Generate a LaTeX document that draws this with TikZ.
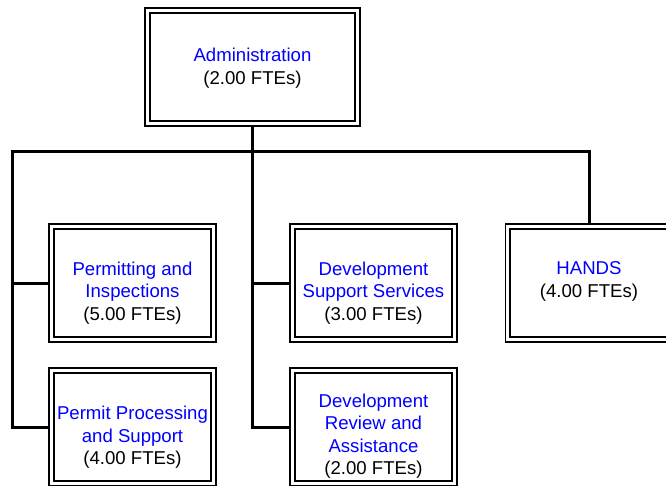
\documentclass[tikz,border=0pt]{standalone}
\usepackage{fontspec}
\setmainfont{Liberation Sans}
\begin{document}
\begin{tikzpicture}[x=1pt,y=-1pt,
  box/.style={draw=black, double=white, double distance=3pt, line width=1.8pt,
    rectangle, inner sep=0pt, outer sep=3.3pt, minimum width=162.4pt, minimum height=113.4pt},
  txt/.style={align=center, inner sep=0pt, font=\fontsize{18.6pt}{22.5pt}\selectfont},
  conn/.style={draw=black, line width=3pt, line join=miter}]
\clip (0,0) rectangle (666,485);
% boxes
\node[box, minimum width=210.4pt] (admin) at (252.5,67) {};
\node[box] (perm) at (132.5,283) {};
\node[box] (ppro) at (132.5,427) {};
\node[box] (devsup) at (373.5,283) {};
\node[box] (devrev) at (373.5,427) {};
\node[box] (hands) at (589,283) {};
% texts
\node[txt] (tadmin) at (252.5,68) {\textcolor{blue}{Administration}\\(2.00 FTEs)};
\node[txt] (tperm) at (132.5,292.8) {\textcolor{blue}{Permitting and}\\\textcolor{blue}{Inspections}\\(5.00 FTEs)};
\node[txt] (tppro) at (132.5,437.3) {\textcolor{blue}{Permit Processing}\\\textcolor{blue}{and Support}\\(4.00 FTEs)};
\node[txt] (tdevsup) at (373.5,292.8) {\textcolor{blue}{Development}\\\textcolor{blue}{Support Services}\\(3.00 FTEs)};
\node[txt] (tdevrev) at (373.5,436.3) {\textcolor{blue}{Development}\\\textcolor{blue}{Review and}\\\textcolor{blue}{Assistance}\\(2.00 FTEs)};
\node[txt] (thands) at (589,281.3) {\textcolor{blue}{HANDS}\\(4.00 FTEs)};
% connectors
\coordinate (bus) at (252.5,151);
\coordinate (ltop) at (12,151);
\draw[conn] (hands.north) |- (ltop) |- (ppro.west);
\draw[conn] (ltop |- perm.west) -- (perm.west);
\draw[conn] (admin.south) |- (devrev.west);
\draw[conn] (admin.south |- devsup.west) -- (devsup.west);
\end{tikzpicture}
\end{document}
